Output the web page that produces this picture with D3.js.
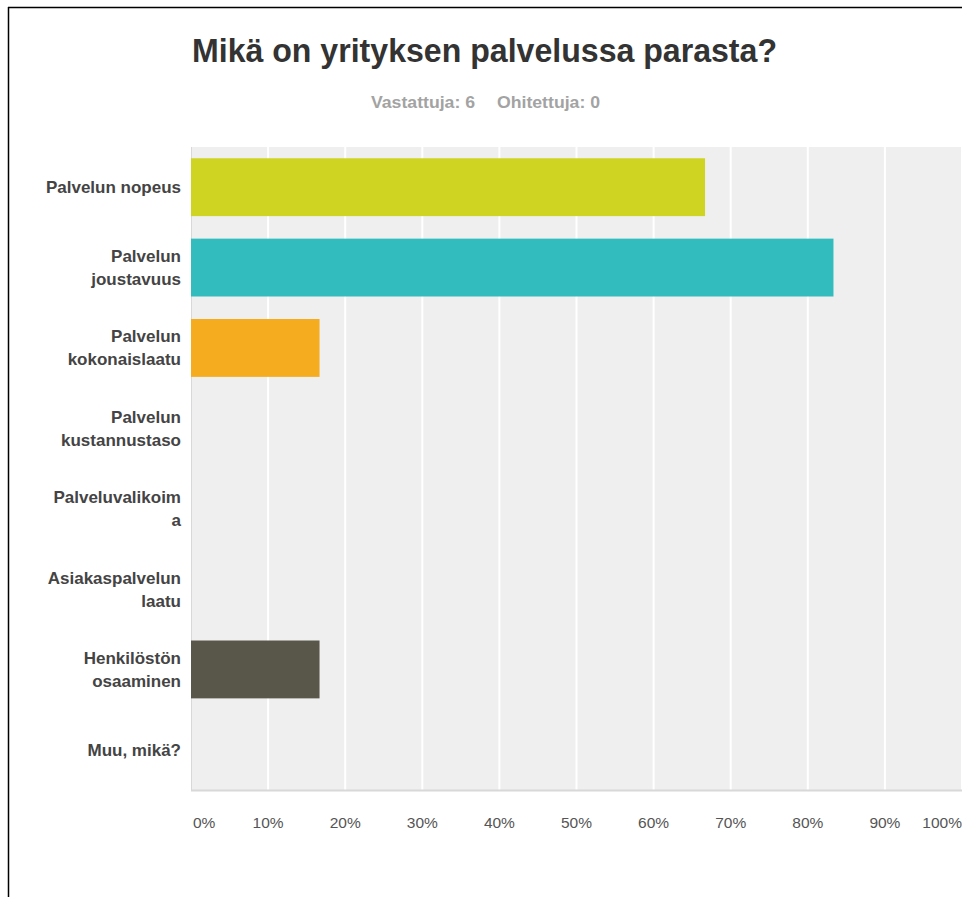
<!DOCTYPE html>
<html>
<head>
<meta charset="utf-8">
<script src="https://cdn.jsdelivr.net/npm/d3@7"></script>
<style>
  body { margin: 0; background: #fff; }
  svg { display: block; }
</style>
</head>
<body>
<svg id="chart" width="962" height="897"></svg>
<script>
const categories = [
  ["Palvelun nopeus"],
  ["Palvelun", "joustavuus"],
  ["Palvelun", "kokonaislaatu"],
  ["Palvelun", "kustannustaso"],
  ["Palveluvalikoim", "a"],
  ["Asiakaspalvelun", "laatu"],
  ["Henkilöstön", "osaaminen"],
  ["Muu, mikä?"]
];
const values = [66.67, 83.33, 16.67, 0, 0, 0, 16.67, 0];
const colors = ["#cfd422", "#33bcbe", "#f5ac1f", "#cfd422", "#33bcbe", "#f5ac1f", "#58574a", "#cfd422"];
const ticks = [0, 10, 20, 30, 40, 50, 60, 70, 80, 90, 100];
const title = "Mikä on yrityksen palvelussa parasta?";
const subtitle = ["Vastattuja: 6", "Ohitettuja: 0"];

const svg = d3.select("#chart");
const margin = { left: 191, top: 147, right: 962, bottom: 790 };
const font = "Liberation Sans, Arial, sans-serif";

// frame
svg.append("line").attr("x1", 8.5).attr("x2", 8.5).attr("y1", 7).attr("y2", 897)
  .attr("stroke", "#000").attr("stroke-width", 1.5);
svg.append("line").attr("x1", 8).attr("x2", 962).attr("y1", 7.5).attr("y2", 7.5)
  .attr("stroke", "#000").attr("stroke-width", 1.5);

// title
svg.append("text")
  .attr("x", 192).attr("y", 62)
  .attr("font-family", font)
  .attr("font-weight", "bold")
  .attr("font-size", 33)
  .attr("fill", "#333")
  .attr("textLength", 585)
  .attr("lengthAdjust", "spacingAndGlyphs")
  .text(title);

const sub = svg.append("g")
  .attr("font-family", font)
  .attr("font-weight", "bold")
  .attr("font-size", 16)
  .attr("fill", "#a3a3a3");
sub.append("text").attr("x", 371).attr("y", 108)
  .attr("textLength", 104).attr("lengthAdjust", "spacingAndGlyphs").text(subtitle[0]);
sub.append("text").attr("x", 497).attr("y", 108)
  .attr("textLength", 103).attr("lengthAdjust", "spacingAndGlyphs").text(subtitle[1]);

const x = d3.scaleLinear().domain([0, 100]).range([margin.left, margin.right]);
const y = d3.scaleBand().domain(d3.range(categories.length))
  .range([margin.top, margin.bottom]).paddingInner(0.28).paddingOuter(0.14);

// plot background
svg.append("rect")
  .attr("x", margin.left).attr("y", margin.top)
  .attr("width", margin.right - margin.left).attr("height", margin.bottom - margin.top)
  .attr("fill", "#efefef");

// gridlines
svg.append("g").selectAll("line").data(ticks.slice(1)).join("line")
  .attr("x1", d => x(d)).attr("x2", d => x(d))
  .attr("y1", margin.top).attr("y2", margin.bottom)
  .attr("stroke", "#fff").attr("stroke-width", 2);

svg.append("line")
  .attr("x1", margin.left + 0.5).attr("x2", margin.left + 0.5)
  .attr("y1", margin.top).attr("y2", margin.bottom)
  .attr("stroke", "#d8d8d8");
svg.append("line")
  .attr("x1", margin.left).attr("x2", margin.right)
  .attr("y1", margin.bottom + 0.5).attr("y2", margin.bottom + 0.5)
  .attr("stroke", "#d8d8d8").attr("stroke-width", 2);

// bars
svg.append("g").selectAll("rect").data(values).join("rect")
  .attr("x", x(0))
  .attr("y", (d, i) => y(i))
  .attr("width", d => x(d) - x(0))
  .attr("height", y.bandwidth())
  .attr("fill", (d, i) => colors[i]);

// category labels
const labels = svg.append("g")
  .attr("font-family", font)
  .attr("font-weight", "bold")
  .attr("font-size", 17)
  .attr("fill", "#444")
  .attr("text-anchor", "end");
categories.forEach((lines, i) => {
  const cy = y(i) + y.bandwidth() / 2;
  const lh = 23;
  const t = labels.append("text");
  lines.forEach((ln, j) => {
    t.append("tspan").attr("x", 181)
      .attr("y", cy + 6 + (j - (lines.length - 1) / 2) * lh)
      .text(ln);
  });
});

// x axis labels
svg.append("g")
  .attr("font-family", font)
  .attr("font-size", 15.5)
  .attr("fill", "#555")
  .selectAll("text").data(ticks).join("text")
  .attr("x", d => d === 0 ? x(0) + 2 : d === 100 ? 962 : x(d))
  .attr("y", 828)
  .attr("text-anchor", d => d === 0 ? "start" : d === 100 ? "end" : "middle")
  .text(d => d + "%");
</script>
</body>
</html>
